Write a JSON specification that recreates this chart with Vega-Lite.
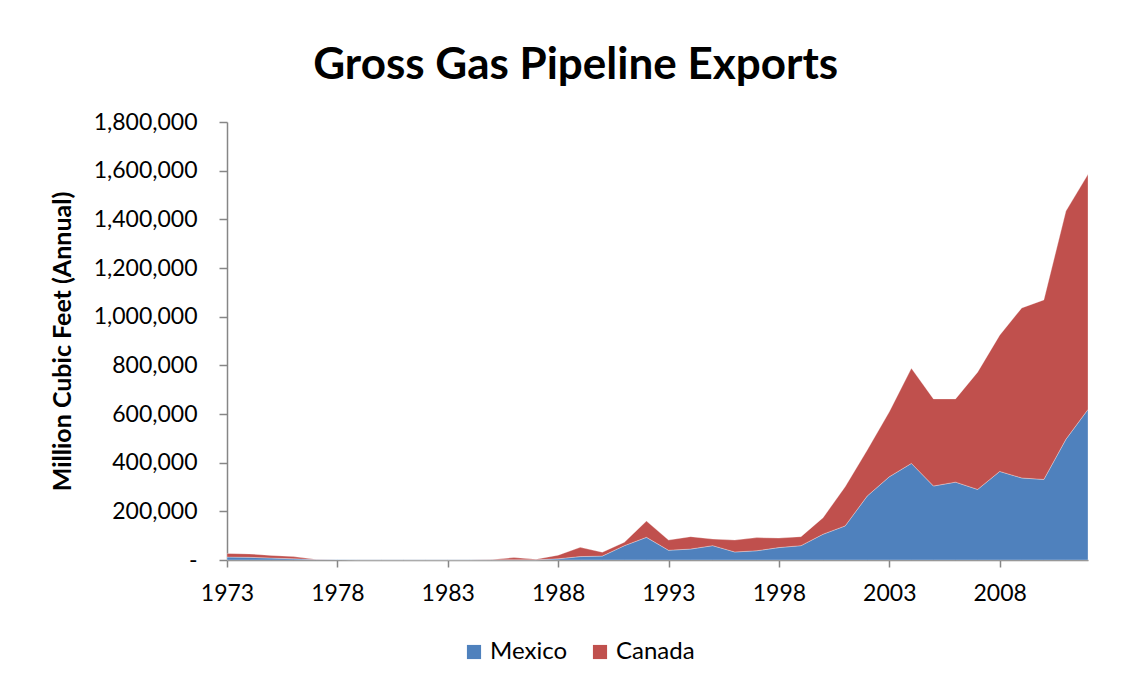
{
  "$schema": "https://vega.github.io/schema/vega-lite/v6.json",
  "autosize": "none",
  "width": 861,
  "height": 438,
  "padding": {"left": 227, "top": 122, "right": 48, "bottom": 123},
  "background": "white",
  "title": {
    "text": "Gross Gas Pipeline Exports",
    "font": "Lato",
    "fontSize": 44,
    "fontWeight": "bold",
    "color": "#000000",
    "anchor": "middle",
    "frame": "bounds",
    "offset": 23,
    "dx": 6
  },
  "data": {
    "values": [
      {"year": 1973, "country": "Mexico", "value": 12000},
      {"year": 1974, "country": "Mexico", "value": 11000},
      {"year": 1975, "country": "Mexico", "value": 8000},
      {"year": 1976, "country": "Mexico", "value": 5000},
      {"year": 1977, "country": "Mexico", "value": 2000},
      {"year": 1978, "country": "Mexico", "value": 2000},
      {"year": 1979, "country": "Mexico", "value": 1000},
      {"year": 1980, "country": "Mexico", "value": 1000},
      {"year": 1981, "country": "Mexico", "value": 1000},
      {"year": 1982, "country": "Mexico", "value": 1000},
      {"year": 1983, "country": "Mexico", "value": 1000},
      {"year": 1984, "country": "Mexico", "value": 1000},
      {"year": 1985, "country": "Mexico", "value": 1000},
      {"year": 1986, "country": "Mexico", "value": 1000},
      {"year": 1987, "country": "Mexico", "value": 1000},
      {"year": 1988, "country": "Mexico", "value": 5000},
      {"year": 1989, "country": "Mexico", "value": 14000},
      {"year": 1990, "country": "Mexico", "value": 16000},
      {"year": 1991, "country": "Mexico", "value": 59000},
      {"year": 1992, "country": "Mexico", "value": 93000},
      {"year": 1993, "country": "Mexico", "value": 40000},
      {"year": 1994, "country": "Mexico", "value": 45000},
      {"year": 1995, "country": "Mexico", "value": 59000},
      {"year": 1996, "country": "Mexico", "value": 33000},
      {"year": 1997, "country": "Mexico", "value": 38000},
      {"year": 1998, "country": "Mexico", "value": 51000},
      {"year": 1999, "country": "Mexico", "value": 59000},
      {"year": 2000, "country": "Mexico", "value": 106000},
      {"year": 2001, "country": "Mexico", "value": 140000},
      {"year": 2002, "country": "Mexico", "value": 263000},
      {"year": 2003, "country": "Mexico", "value": 342000},
      {"year": 2004, "country": "Mexico", "value": 397000},
      {"year": 2005, "country": "Mexico", "value": 304000},
      {"year": 2006, "country": "Mexico", "value": 320000},
      {"year": 2007, "country": "Mexico", "value": 290000},
      {"year": 2008, "country": "Mexico", "value": 364000},
      {"year": 2009, "country": "Mexico", "value": 337000},
      {"year": 2010, "country": "Mexico", "value": 331000},
      {"year": 2011, "country": "Mexico", "value": 496000},
      {"year": 2012, "country": "Mexico", "value": 619000},
      {"year": 1973, "country": "Canada", "value": 15000},
      {"year": 1974, "country": "Canada", "value": 14000},
      {"year": 1975, "country": "Canada", "value": 11000},
      {"year": 1976, "country": "Canada", "value": 9000},
      {"year": 1977, "country": "Canada", "value": 1000},
      {"year": 1978, "country": "Canada", "value": 0},
      {"year": 1979, "country": "Canada", "value": 0},
      {"year": 1980, "country": "Canada", "value": 0},
      {"year": 1981, "country": "Canada", "value": 0},
      {"year": 1982, "country": "Canada", "value": 0},
      {"year": 1983, "country": "Canada", "value": 0},
      {"year": 1984, "country": "Canada", "value": 0},
      {"year": 1985, "country": "Canada", "value": 1000},
      {"year": 1986, "country": "Canada", "value": 9000},
      {"year": 1987, "country": "Canada", "value": 2000},
      {"year": 1988, "country": "Canada", "value": 15000},
      {"year": 1989, "country": "Canada", "value": 38000},
      {"year": 1990, "country": "Canada", "value": 16000},
      {"year": 1991, "country": "Canada", "value": 14000},
      {"year": 1992, "country": "Canada", "value": 67000},
      {"year": 1993, "country": "Canada", "value": 42000},
      {"year": 1994, "country": "Canada", "value": 51000},
      {"year": 1995, "country": "Canada", "value": 27000},
      {"year": 1996, "country": "Canada", "value": 49000},
      {"year": 1997, "country": "Canada", "value": 54000},
      {"year": 1998, "country": "Canada", "value": 39000},
      {"year": 1999, "country": "Canada", "value": 37000},
      {"year": 2000, "country": "Canada", "value": 68000},
      {"year": 2001, "country": "Canada", "value": 161000},
      {"year": 2002, "country": "Canada", "value": 189000},
      {"year": 2003, "country": "Canada", "value": 267000},
      {"year": 2004, "country": "Canada", "value": 391000},
      {"year": 2005, "country": "Canada", "value": 358000},
      {"year": 2006, "country": "Canada", "value": 342000},
      {"year": 2007, "country": "Canada", "value": 482000},
      {"year": 2008, "country": "Canada", "value": 560000},
      {"year": 2009, "country": "Canada", "value": 699000},
      {"year": 2010, "country": "Canada", "value": 738000},
      {"year": 2011, "country": "Canada", "value": 938000},
      {"year": 2012, "country": "Canada", "value": 966000}
    ]
  },
  "mark": {"type": "area", "stroke": "#ffffff", "strokeWidth": 0.6, "strokeOpacity": 0.5},
  "encoding": {
    "x": {
      "field": "year",
      "type": "quantitative",
      "scale": {"domain": [1973, 2012], "nice": false, "zero": false},
      "axis": {
        "values": [1973, 1978, 1983, 1988, 1993, 1998, 2003, 2008],
        "format": "d",
        "title": null,
        "grid": false,
        "domainColor": "#868686",
        "domainWidth": 1.5,
        "tickColor": "#868686",
        "tickWidth": 1.5,
        "tickSize": 7,
        "labelFont": "Lato",
        "labelFontSize": 23,
        "labelColor": "#000000",
        "labelPadding": 15,
        "labelFlush": false
      }
    },
    "y": {
      "field": "value",
      "type": "quantitative",
      "stack": "zero",
      "scale": {"domain": [0, 1800000], "nice": false},
      "axis": {
        "values": [0, 200000, 400000, 600000, 800000, 1000000, 1200000, 1400000, 1600000, 1800000],
        "labelExpr": "datum.value === 0 ? '-\u00a0\u00a0\u00a0\u00a0' : format(datum.value, ',')",
        "title": "Million Cubic Feet (Annual)",
        "titleFont": "Lato",
        "titleFontSize": 25,
        "titleFontWeight": "bold",
        "titleColor": "#000000",
        "titlePadding": 18,
        "grid": false,
        "domainColor": "#868686",
        "domainWidth": 1.5,
        "tickColor": "#868686",
        "tickWidth": 1.5,
        "tickSize": 8,
        "labelFont": "Lato",
        "labelFontSize": 23,
        "labelColor": "#000000",
        "labelPadding": 22
      }
    },
    "color": {
      "field": "country",
      "type": "nominal",
      "scale": {"domain": ["Mexico", "Canada"], "range": ["#4F81BD", "#C0504D"]},
      "legend": {
        "title": null,
        "orient": "none",
        "direction": "horizontal",
        "legendX": 235,
        "legendY": 518,
        "symbolType": "square",
        "symbolSize": 200,
        "symbolStrokeWidth": 0,
        "labelFont": "Lato",
        "labelFontSize": 24,
        "labelColor": "#000000",
        "columnPadding": 21,
        "labelOffset": 4
      }
    },
    "order": {"field": "country", "sort": "descending"}
  },
  "config": {"view": {"stroke": null}}
}
